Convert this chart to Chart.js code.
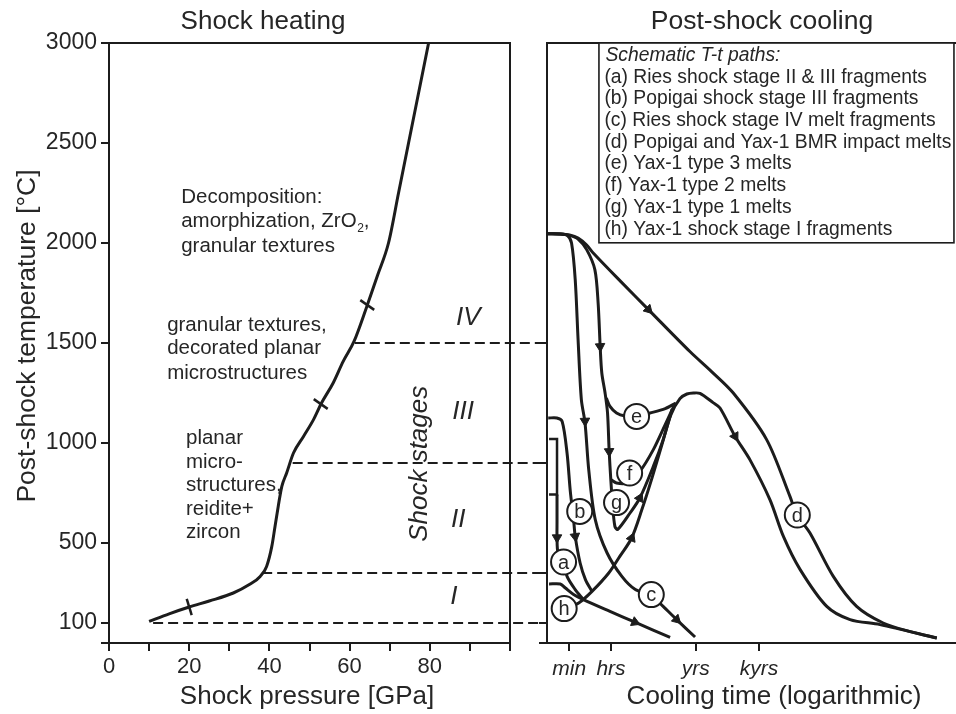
<!DOCTYPE html>
<html><head><meta charset="utf-8">
<script src="https://cdn.jsdelivr.net/npm/chart.js@4.4.1/dist/chart.umd.min.js"></script>
<style>
html,body{margin:0;padding:0;background:#fff;}
#wrap{position:relative;width:956px;height:714px;overflow:hidden;background:#fff;}
canvas{position:absolute;left:0;top:0;}
</style></head><body>
<div id="wrap"><canvas id="left" width="956" height="714"></canvas><canvas id="right" width="956" height="714"></canvas></div>
<script>
// ================= DATA =================
// Left panel: shock heating curve (shock pressure GPa -> post-shock temperature °C)
const heatP = [10, 15, 20, 25, 31, 35, 37.7, 39.3, 40.6, 41.4, 42.2, 43.1, 44.3, 46.0, 48.5, 51.0, 53.0, 55.9, 58.4, 61.1, 64.3, 67.0, 69.7, 72.2, 74.7, 77.2, 79.7];
const heatT = [108, 146, 180, 210, 250, 292, 333, 383, 483, 583, 683, 783, 850, 950, 1033, 1117, 1200, 1300, 1408, 1508, 1683, 1840, 2000, 2250, 2500, 2750, 3000];
// Shock stage boundaries (dashed lines) and where they leave the curve
const stageT = [100, 350, 900, 1500];
const stageStartP = [11, 38.2, 45.8, 61.3];
// Cross marks on the heating curve
const markP = [20, 52.8, 64.4];
const markT = [180, 1195, 1690];
// Axis ticks
const pressureTicks = [0, 10, 20, 30, 40, 50, 60, 70, 80, 90, 100];
const pressureLabels = [0, 20, 40, 60, 80];
const tempTicks = [0, 100, 500, 1000, 1500, 2000, 2500, 3000];
const coolTempTicks = [0, 100, 350, 900, 1500];
const timeTickPos = [5.45, 15.65, 36.36, 51.83];      // schematic log-time units
const timeTickLabels = ['min', 'hrs', 'yrs', 'kyrs'];

// Right panel: schematic T-t paths [log time (arb.), T °C]
const pathC = [[0.2,2046],[3.2,2045],[5.0,2037],[6.0,2000],[6.9,1817],[7.6,1517],[8.4,1217],[9.3,1100],[10.2,867],[11.8,617],[14.7,450],[18.3,333],[21.6,267],[25.4,240],[28.4,183],[31.7,117],[36.2,30]];
const pathDupper = [[0.2,2046],[3.2,2045],[5.5,2040],[7.6,2025],[9.7,1990],[11.3,1950],[18.0,1808],[24.8,1667],[35.0,1456],[40.3,1356],[45.5,1251],[53.7,1017],[59.4,733],[61.1,642],[64.3,550],[70.0,333],[75.7,183],[82.2,100],[88.8,57],[95.3,25]];
const pathTrunk = [[0.2,2046],[3.2,2045],[5.5,2038],[7.6,2020],[9.7,1967],[11.7,1867],[12.5,1700],[13.0,1483],[13.4,1350],[14.2,1250],[14.8,1150],[15.2,958],[15.6,817],[16.0,700],[16.6,583],[17.3,568],[20.3,650],[22.7,725],[26.0,883],[28.4,1017],[30.6,1170]];
const pathE = [[14.5,1225],[15.4,1183],[17.0,1150],[19.1,1135],[21.9,1133],[25.2,1150],[28.9,1172],[31.5,1200]];
const pathF = [[15.6,817],[17.0,800],[19.5,800],[22.7,858],[26.0,967],[28.9,1092],[31.0,1183]];
const pathHump = [[4.3,170],[7.75,200],[11.0,258],[15.1,350],[17.8,433],[20.7,525],[23.2,667],[25.7,827],[28.1,992],[30.3,1142],[32.5,1222],[34.2,1245],[35.8,1250],[37.4,1248],[40.6,1202],[42.3,1175],[46.0,1033],[49.6,917],[54.5,717],[57.8,533],[61.9,367],[68.4,183],[74.1,117],[81.4,92],[95.3,25]];
const pathB = [[0.3,1125],[2.4,1125],[3.7,1108],[4.9,950],[5.7,758],[6.5,617],[6.9,533],[8.1,400],[9.4,317],[11.0,258]];
const bracketA = [[0.5,1020],[2.45,1020],[2.45,742],[0.5,742]];
const pathA = [[2.45,742],[2.45,600],[2.45,527],[2.7,450],[4.05,405],[4.9,333],[6.9,267],[8.9,217]];
const pathH = [[0.5,295],[3.25,295],[4.5,275],[6.5,243],[8.9,217],[15.4,158],[21.5,104],[30.1,28]];
// Arrow heads on the paths
const arrowX = [9.3, 13.0, 15.2, 24.8, 46.0, 22.7, 20.7, 21.5, 6.9, 2.45, 31.7];
const arrowT = [1110, 1483, 958, 1667, 1033, 725, 525, 104, 533, 527, 117];
// Circled path letters
const tagLetters = ['a','b','c','d','e','f','g','h'];
const tagX = [4.05, 8.0, 25.5, 61.2, 21.9, 20.2, 17.0, 4.2];
const tagT = [405, 658, 242, 640, 1133, 850, 702, 172];
// Legend text
const legendTitle = 'Schematic T-t paths:';
const legendLines = [
  '(a) Ries shock stage II & III fragments',
  '(b) Popigai shock stage III fragments',
  '(c) Ries shock stage IV melt fragments',
  '(d) Popigai and Yax-1 BMR impact melts',
  '(e) Yax-1 type 3 melts',
  '(f) Yax-1 type 2 melts',
  '(g) Yax-1 type 1 melts',
  '(h) Yax-1 shock stage I fragments'
];

// ================= STYLE / LAYOUT =================
const FONT = "'Liberation Sans', Arial, Helvetica, sans-serif";
const INK = '#1c1c1c';
const TXT = '#262626';
const DASH_END_P = 109.2; // dashed stage lines run to the cooling panel's axis
const arrowRot = [178, 177, 178, 136, 151, 27, 22, 113, 172, 180, 134];
const markRot = [73, 35, 35];

Chart.defaults.font.family = FONT;
Chart.defaults.color = TXT;

const toPts = (xs, ys) => xs.map((v, i) => ({x: v, y: ys[i]}));
const fromPairs = a => a.map(p => ({x: p[0], y: p[1]}));
const lineDs = (data, extra) => Object.assign({
  data, showLine: true, borderColor: INK, borderWidth: 3, pointRadius: 0, pointHoverRadius: 0,
  tension: 0.3, fill: false, order: 3
}, extra || {});

function txt(ctx, s, x, y, o) {
  o = o || {};
  ctx.save();
  ctx.font = (o.style || 'normal') + ' ' + (o.size || 20.5) + 'px ' + FONT;
  ctx.fillStyle = o.color || TXT;
  ctx.textAlign = o.align || 'left';
  ctx.textBaseline = o.base || 'middle';
  ctx.fillText(s, x, y);
  ctx.restore();
}
function rtxt(ctx, s, x, y, o) {
  ctx.save();
  ctx.translate(x, y);
  ctx.rotate(-Math.PI / 2);
  txt(ctx, s, 0, 0, Object.assign({align: 'center'}, o));
  ctx.restore();
}
const gridOpts = {display: true, drawOnChartArea: false, drawTicks: true, tickLength: 8, color: INK, lineWidth: 2};
const borderOpts = {display: true, color: INK, width: 2};
const fitX = s => { s.height = 71; s.paddingLeft = 0; s.paddingRight = 0; };

// ---- left panel annotations (in data coordinates) ----
const leftNotes = [
  ['Decomposition:', 18.0, 2230],
  ['granular textures', 18.0, 1983],
  ['granular textures,', 14.5, 1590],
  ['decorated planar', 14.5, 1475],
  ['microstructures', 14.5, 1350],
  ['planar', 19.2, 1025],
  ['micro-', 19.2, 901],
  ['structures,', 19.2, 786],
  ['reidite+', 19.2, 666],
  ['zircon', 19.2, 551]
];
const romanNotes = [['IV', 89.6, 1625], ['III', 88.3, 1158], ['II', 87.1, 616], ['I', 86.0, 233]];

const leftPlugin = {
  id: 'leftPlugin',
  afterDraw(chart) {
    const {ctx, chartArea: a, scales: {x, y}} = chart;
    ctx.save();
    ctx.strokeStyle = INK; ctx.lineWidth = 2;
    ctx.beginPath(); ctx.moveTo(a.left, a.top); ctx.lineTo(a.right, a.top); ctx.lineTo(a.right, a.bottom); ctx.stroke();
    ctx.restore();
    leftNotes.forEach(n => txt(ctx, n[0], x.getPixelForValue(n[1]), y.getPixelForValue(n[2])));
    // amorphization, ZrO2,
    const px = x.getPixelForValue(18.0), py = y.getPixelForValue(2106);
    ctx.save();
    ctx.font = '20.5px ' + FONT; ctx.fillStyle = TXT; ctx.textBaseline = 'middle';
    const s1 = 'amorphization, ZrO';
    ctx.fillText(s1, px, py);
    let w = ctx.measureText(s1).width;
    ctx.font = '12px ' + FONT;
    ctx.fillText('2', px + w + 0.5, py + 7);
    w += ctx.measureText('2').width + 0.5;
    ctx.font = '20.5px ' + FONT;
    ctx.fillText(',', px + w, py);
    ctx.restore();
    romanNotes.forEach(n => txt(ctx, n[0], x.getPixelForValue(n[1]), y.getPixelForValue(n[2]), {size: 26, style: 'italic', align: 'center'}));
    rtxt(ctx, 'Shock stages', x.getPixelForValue(77.6), y.getPixelForValue(896), {size: 26, style: 'italic'});
    // titles
    txt(ctx, 'Shock heating', 263, 22, {size: 26, align: 'center'});
    txt(ctx, 'Shock pressure [GPa]', 307, 697, {size: 26, align: 'center'});
    rtxt(ctx, 'Post-shock temperature [°C]', 35, 336, {size: 26.5, base: 'alphabetic'});
  }
};

new Chart(document.getElementById('left'), {
  type: 'scatter',
  data: {datasets: [
    lineDs(toPts(heatP, heatT), {cubicInterpolationMode: 'monotone'}),
    ...stageT.map((t, i) => lineDs([{x: stageStartP[i], y: t}, {x: DASH_END_P, y: t}],
      {borderWidth: 1.8, borderDash: [10, 5], tension: 0, clip: false})),
    {data: toPts(markP, markT), showLine: false, pointStyle: 'line', pointRadius: 8.5,
     pointBorderWidth: 2.5, pointBorderColor: INK, borderColor: INK, pointRotation: markRot, order: 1}
  ]},
  options: {
    responsive: false, animation: false, devicePixelRatio: 1, events: [],
    layout: {autoPadding: false, padding: {left: 0, top: 43, right: 446, bottom: 0}},
    plugins: {legend: {display: false}, tooltip: {enabled: false}},
    scales: {
      x: {type: 'linear', min: 0, max: 100,
        afterBuildTicks: s => { s.ticks = pressureTicks.map(v => ({value: v})); },
        afterFit: fitX,
        ticks: {autoSkip: false, maxRotation: 0, padding: 3, color: TXT, font: {size: 22},
          callback: v => pressureLabels.includes(v) ? String(v) : ''},
        grid: gridOpts, border: borderOpts},
      y: {type: 'linear', min: 0, max: 3000,
        afterBuildTicks: s => { s.ticks = tempTicks.map(v => ({value: v})); },
        afterFit: s => { s.width = 109; },
        ticks: {autoSkip: false, padding: 4, color: TXT, font: {size: 23},
          callback: v => v === 0 ? '' : String(v)},
        grid: gridOpts, border: borderOpts}
    }
  },
  plugins: [leftPlugin]
});

// ---- right panel ----
const rightPlugin = {
  id: 'rightPlugin',
  afterDraw(chart) {
    const {ctx, chartArea: a, scales: {x, y}} = chart;
    ctx.save();
    ctx.strokeStyle = INK; ctx.lineWidth = 2;
    ctx.beginPath(); ctx.moveTo(a.left, a.top); ctx.lineTo(a.right, a.top); ctx.stroke();
    // legend box
    const bl = x.getPixelForValue(12.7), br = x.getPixelForValue(99.5), bb = y.getPixelForValue(2001);
    ctx.lineWidth = 1.6;
    ctx.fillStyle = '#fff';
    ctx.fillRect(bl, a.top, br - bl, bb - a.top);
    ctx.strokeRect(bl, a.top, br - bl, bb - a.top);
    ctx.restore();
    const lx = bl + 5.5;
    txt(ctx, legendTitle, lx + 1, a.top + 12.5, {size: 19.3, style: 'italic'});
    legendLines.forEach((s, i) => txt(ctx, s, lx, a.top + 34.3 + i * 21.7, {size: 19.3}));
    // letters in circles
    tagLetters.forEach((l, i) => {
      txt(ctx, l, x.getPixelForValue(tagX[i]), y.getPixelForValue(tagT[i]) + 6.5, {size: 20, align: 'center', base: 'alphabetic'});
    });
    txt(ctx, 'Post-shock cooling', 762, 22, {size: 26.5, align: 'center'});
    txt(ctx, 'Cooling time (logarithmic)', 774, 697, {size: 26, align: 'center'});
  }
};

new Chart(document.getElementById('right'), {
  type: 'scatter',
  data: {datasets: [
    {data: toPts(tagX, tagT), showLine: false, pointStyle: 'circle', pointRadius: 12.5,
     pointBackgroundColor: '#fff', pointBorderColor: INK, pointBorderWidth: 2, order: 0},
    {data: toPts(arrowX, arrowT), showLine: false, pointStyle: 'triangle', pointRadius: 5.5,
     pointBackgroundColor: INK, pointBorderColor: INK, pointBorderWidth: 1, pointRotation: arrowRot, order: 1},
    lineDs(fromPairs(pathC)),
    lineDs(fromPairs(pathDupper)),
    lineDs(fromPairs(pathTrunk)),
    lineDs(fromPairs(pathE)),
    lineDs(fromPairs(pathF)),
    lineDs(fromPairs(pathHump)),
    lineDs(fromPairs(pathB)),
    lineDs(fromPairs(bracketA), {tension: 0, borderWidth: 2.5}),
    lineDs(fromPairs(pathA)),
    lineDs(fromPairs(pathH))
  ]},
  options: {
    responsive: false, animation: false, devicePixelRatio: 1, events: [],
    layout: {autoPadding: false, padding: {left: 537, top: 43, right: 0, bottom: 0}},
    plugins: {legend: {display: false}, tooltip: {enabled: false}},
    scales: {
      x: {type: 'linear', min: 0, max: 100,
        afterBuildTicks: s => { s.ticks = timeTickPos.map(v => ({value: v})); },
        afterFit: fitX,
        ticks: {autoSkip: false, maxRotation: 0, padding: 6, color: TXT, font: {size: 21, style: 'italic'},
          callback: (v, i) => timeTickLabels[i]},
        grid: gridOpts, border: borderOpts},
      y: {type: 'linear', min: 0, max: 3000,
        afterBuildTicks: s => { s.ticks = coolTempTicks.map(v => ({value: v})); },
        afterFit: s => { s.width = 10; s.paddingTop = 0; s.paddingBottom = 0; },
        ticks: {display: false},
        grid: gridOpts, border: borderOpts}
    }
  },
  plugins: [rightPlugin]
});
</script>
</body></html>
